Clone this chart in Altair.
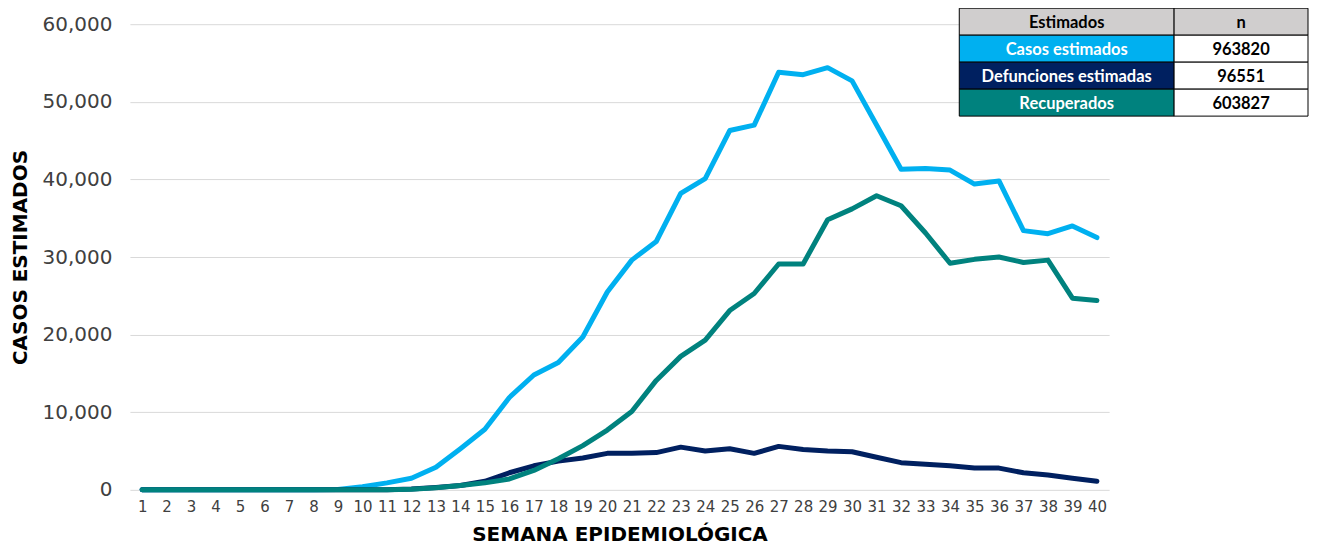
import altair as alt
import pandas as pd

weeks = list(range(1, 41))

casos_estimados = [0, 0, 0, 0, 0, 0, 0, 0, 30, 400,
                   900, 1500, 2900, 5300, 7800, 11900, 14800, 16400, 19700, 25500,
                   29600, 32000, 38200, 40100, 46300, 47000, 53800, 53500, 54400, 52700,
                   47000, 41300, 41400, 41200, 39400, 39800, 33400, 33000, 34000, 32500]

defunciones_estimadas = [0, 0, 0, 0, 0, 0, 0, 0, 0, 0,
                         20, 100, 300, 550, 1100, 2200, 3100, 3700, 4100, 4700,
                         4700, 4800, 5500, 5000, 5300, 4700, 5600, 5200, 5000, 4900,
                         4200, 3500, 3300, 3100, 2800, 2800, 2200, 1900, 1500, 1100]

recuperados = [0, 0, 0, 0, 0, 0, 0, 0, 0, 0,
               20, 80, 280, 550, 900, 1400, 2500, 4000, 5700, 7700,
               10100, 14100, 17200, 19300, 23100, 25300, 29100, 29100, 34800, 36200,
               37900, 36600, 33100, 29200, 29700, 30000, 29300, 29600, 24700, 24400]

series_names = ["Casos estimados", "Defunciones estimadas", "Recuperados"]
series_colors = ["#00B0F0", "#002060", "#00827E"]

table_header = ["Estimados", "n"]
table_totals = ["963820", "96551", "603827"]
header_fill = "#D0CECE"

y_ticks = [0, 10000, 20000, 30000, 40000, 50000, 60000]

series_values = [casos_estimados, defunciones_estimadas, recuperados]
rows = []
for name, vals in zip(series_names, series_values):
    for w, v in zip(weeks, vals):
        rows.append({"semana": w, "valor": v, "serie": name})
df = pd.DataFrame(rows)

AX_FONT = "DejaVu Sans"

lines = alt.Chart(df).mark_line(strokeWidth=5, strokeCap="round", strokeJoin="round").encode(
    x=alt.X("semana:O",
            scale=alt.Scale(paddingOuter=0.5),
            axis=alt.Axis(title="SEMANA EPIDEMIOLÓGICA", labelAngle=0, grid=False, domain=False,
                          ticks=False, labelPadding=10, labelFont=AX_FONT, labelFontSize=15,
                          labelColor="#404040", titleFont=AX_FONT, titleFontSize=20,
                          titleFontWeight="bold", titleColor="#000000", titlePadding=10)),
    y=alt.Y("valor:Q",
            scale=alt.Scale(domain=[0, 60000], nice=False),
            axis=alt.Axis(title="CASOS ESTIMADOS", values=y_ticks,
                          labelExpr="format(datum.value, ',')", grid=True,
                          gridColor="#D9D9D9", gridWidth=1, domain=False, ticks=False,
                          labelPadding=18, labelFont=AX_FONT, labelFontSize=20,
                          labelColor="#404040", titleFont=AX_FONT, titleFontSize=20,
                          titleFontWeight="bold", titleColor="#000000", titlePadding=12)),
    color=alt.Color("serie:N", scale=alt.Scale(domain=series_names, range=series_colors),
                    legend=None),
)

# Table (legend-like box), layout in plot pixel coordinates
col_x = [830, 1045, 1179]
row_h = 27
row_top = -16

layers = [lines]


def cell(x0, x1, y0, y1, fill, text, tcolor):
    d = pd.DataFrame({"t": [text]})
    r = alt.Chart(d).mark_rect(fill=fill, stroke="#000000", strokeWidth=1).encode(
        x=alt.value(x0), x2=alt.value(x1), y=alt.value(y0), y2=alt.value(y1))
    t = alt.Chart(d).mark_text(font="Lato", fontSize=16.5, fontWeight="bold", color=tcolor,
                               align="center", baseline="middle").encode(
        x=alt.value((x0 + x1) / 2), y=alt.value((y0 + y1) / 2 + 1), text="t:N")
    return [r, t]


y0 = row_top
layers += cell(col_x[0], col_x[1], y0, y0 + row_h, header_fill, table_header[0], "#000000")
layers += cell(col_x[1], col_x[2], y0, y0 + row_h, header_fill, table_header[1], "#000000")
for i, (name, color, total) in enumerate(zip(series_names, series_colors, table_totals)):
    ya = row_top + row_h * (i + 1)
    layers += cell(col_x[0], col_x[1], ya, ya + row_h, color, name, "#FFFFFF")
    layers += cell(col_x[1], col_x[2], ya, ya + row_h, "#FFFFFF", total, "#000000")

chart = alt.layer(*layers).properties(
    width=980, height=466,
    autosize=alt.AutoSizeParams(type="none"),
    padding={"left": 122, "top": 16, "right": 202, "bottom": 58},
).configure_view(stroke=None)

chart.save("out.html", embed_options={"renderer": "svg", "actions": False})
